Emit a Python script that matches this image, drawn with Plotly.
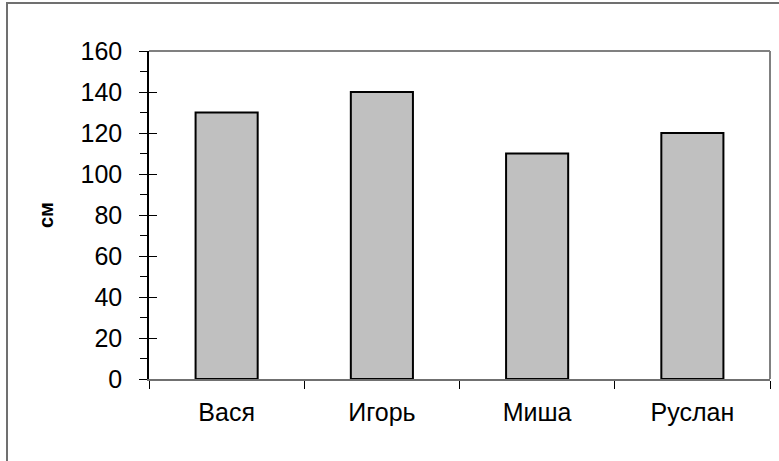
import plotly.graph_objects as go

names = ["Вася", "Игорь", "Миша", "Руслан"]
heights = [130, 140, 110, 120]
y_ticks = [0, 20, 40, 60, 80, 100, 120, 140, 160]

FONT = "Liberation Sans, Arial, sans-serif"

L, T, R, B = 149, 51, 9, 82
PW = 779 - L - R
PH = 461 - T - B

fig = go.Figure()
fig.add_trace(go.Bar(
    x=names, y=heights,
    marker=dict(color="#C0C0C0", line=dict(color="black", width=2)),
    showlegend=False,
))
# invisible trace to activate the second y-axis (inside ticks -> crossing ticks)
fig.add_trace(go.Scatter(x=names, y=heights, yaxis="y2", mode="markers",
                         marker=dict(opacity=0), showlegend=False, hoverinfo="skip"))

fig.update_layout(
    width=779, height=461,
    margin=dict(l=L, r=R, t=T, b=B, autoexpand=False),
    paper_bgcolor="white", plot_bgcolor="white",
    bargap=0.6,
    font=dict(family=FONT, color="black", size=24),
    xaxis=dict(
        type="category",
        showline=True, linecolor="#707070", linewidth=2,
        ticks="outside", tickson="boundaries", ticklen=8, tickcolor="black", tickwidth=1,
        showgrid=False, zeroline=False,
        tickfont=dict(size=25, family=FONT, color="black"),
        ticklabelstandoff=10,
    ),
    yaxis=dict(
        range=[0, 160], tickvals=y_ticks,
        showline=True, linecolor="black", linewidth=1.5,
        ticks="outside", ticklen=8, tickcolor="black", tickwidth=1,
        minor=dict(ticks="outside", dtick=10, ticklen=7, tickcolor="black", tickwidth=1, showgrid=False),
        showgrid=False, zeroline=False,
        tickfont=dict(size=25, family=FONT, color="black"),
        ticklabelstandoff=12,
    ),
    yaxis2=dict(
        overlaying="y", side="left", range=[0, 160], tickvals=y_ticks,
        ticks="inside", ticklen=8, tickcolor="black", tickwidth=1,
        showticklabels=False, showgrid=False, zeroline=False, showline=False,
    ),
    annotations=[
        dict(text="<b>см</b>", xref="paper", yref="paper",
             x=(46 - L) / PW, y=0.5, xanchor="center", yanchor="middle",
             textangle=-90, showarrow=False,
             font=dict(size=20, family=FONT, color="black")),
    ],
    shapes=[
        dict(type="line", xref="paper", yref="paper", x0=0, x1=1, y0=1, y1=1,
             line=dict(color="#808080", width=2)),
        dict(type="line", xref="paper", yref="paper", x0=1, x1=1, y0=0, y1=1,
             line=dict(color="#808080", width=2)),
        dict(type="rect", xref="paper", yref="paper",
             x0=(7 - L) / PW, x1=1.2, y0=-0.5, y1=1 + (T - 3) / PH,
             line=dict(color="#707070", width=2), layer="below"),
    ],
)

fig.write_html("out.html", config={"displayModeBar": False},
               post_script="document.body.style.margin='0';")
